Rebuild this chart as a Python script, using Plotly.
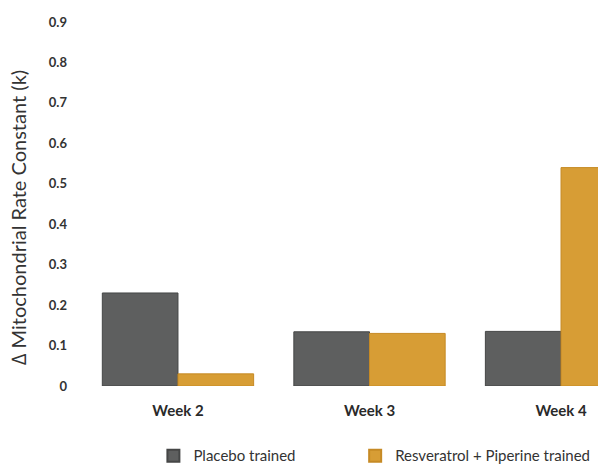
import plotly.graph_objects as go

weeks = ["Week 2", "Week 3", "Week 4"]
placebo = [0.23, 0.134, 0.135]
resv_pip = [0.03, 0.13, 0.54]
y_ticks = [0, 0.1, 0.2, 0.3, 0.4, 0.5, 0.6, 0.7, 0.8, 0.9]
y_ticktext = ["0", "0.1", "0.2", "0.3", "0.4", "0.5", "0.6", "0.7", "0.8", "0.9"]
y_title = "∆ Mitochondrial Rate Constant (k)"

fig = go.Figure()
fig.add_trace(go.Bar(
    x=weeks, y=placebo, name="Placebo trained", legend="legend",
    marker=dict(color="#5e5f5f", line=dict(color="#454646", width=1)),
))
fig.add_trace(go.Bar(
    x=weeks, y=resv_pip, name="Resveratrol + Piperine trained", legend="legend2",
    marker=dict(color="#d79d35", line=dict(color="#c68a25", width=1)),
))

fig.add_annotation(
    text=y_title, textangle=-90, xref="paper", yref="paper",
    x=-0.1154, y=0.464, xanchor="center", yanchor="middle", showarrow=False,
    font=dict(size=20, color="#333333"),
)

legend_style = dict(
    orientation="h", xanchor="left", y=-0.192, yanchor="middle",
    font=dict(size=15, color="#333333"), itemsizing="constant",
    bgcolor="rgba(0,0,0,0)",
)

fig.update_layout(
    width=598, height=466,
    margin=dict(l=78, r=0, t=22, b=80, autoexpand=False),
    paper_bgcolor="white", plot_bgcolor="white",
    barmode="group", bargap=0.21, bargroupgap=0,
    font=dict(family="Lato, Open Sans, sans-serif", color="#333333"),
    showlegend=True,
    legend=dict(x=0.145, **legend_style),
    legend2=dict(x=0.533, **legend_style),
    xaxis=dict(
        range=[-0.522, 2.193], showgrid=False, showline=False, zeroline=False,
        ticks="", tickfont=dict(size=15, weight="bold", color="#2a2a2a"),
        ticklabelstandoff=14,
    ),
    yaxis=dict(
        range=[0, 0.9], tickvals=y_ticks, ticktext=y_ticktext,
        showgrid=False, showline=False, zeroline=False, ticks="",
        tickfont=dict(size=13, weight="bold", color="#333333"),
        ticklabelstandoff=10,
    ),
)

fig.write_html("out.html")
